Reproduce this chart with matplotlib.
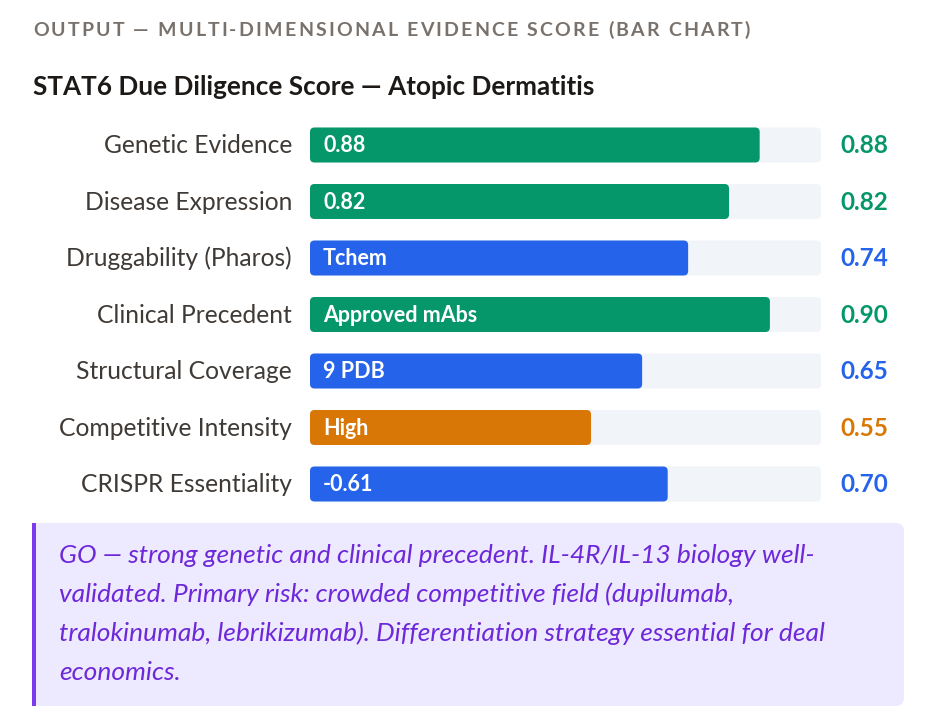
import matplotlib
matplotlib.use("Agg")
import matplotlib.pyplot as plt
from matplotlib.patches import FancyBboxPatch, Rectangle

# ---------------- data ----------------
categories = ["Genetic Evidence", "Disease Expression", "Druggability (Pharos)",
              "Clinical Precedent", "Structural Coverage", "Competitive Intensity",
              "CRISPR Essentiality"]
scores = [0.88, 0.82, 0.74, 0.90, 0.65, 0.55, 0.70]
bar_labels = ["0.88", "0.82", "Tchem", "Approved mAbs", "9 PDB", "High", "-0.61"]
value_labels = ["0.88", "0.82", "0.74", "0.90", "0.65", "0.55", "0.70"]
bar_kinds = ["good", "good", "mid", "good", "mid", "warn", "mid"]

header = "OUTPUT — MULTI-DIMENSIONAL EVIDENCE SCORE (BAR CHART)"
title = "STAT6 Due Diligence Score — Atopic Dermatitis"
note_lines = ["GO — strong genetic and clinical precedent. IL-4R/IL-13 biology well-",
              "validated. Primary risk: crowded competitive field (dupilumab,",
              "tralokinumab, lebrikizumab). Differentiation strategy essential for deal",
              "economics."]

# ---------------- style ----------------
kind_colors = {"good": "#059669", "mid": "#2563eb", "warn": "#d97706"}
track_color = "#f1f5f9"
FONT = ["Lato", "DejaVu Sans"]
plt.rcParams["font.family"] = FONT

W, H = 934, 728
fig = plt.figure(figsize=(W / 100, H / 100), dpi=100)
fig.patch.set_facecolor("white")

def fx(px):
    return px / W

def fy(py):
    return 1 - py / H

# bar axes: x 310..821 px, rows centered 145..484 px
row_h = (484 - 145) / 6
top_px = 145 - row_h / 2
bot_px = 484 + row_h / 2
ax = fig.add_axes([fx(310), fy(bot_px), fx(821) - fx(310), (bot_px - top_px) / H])
n = len(categories)
ax.set_xlim(0, 1)
ax.set_ylim(n - 0.5, -0.5)
ax.axis("off")

bar_h = 35 / row_h
rad_x = 4.5 / 511
aspect = (1 / row_h) / (1 / 511)

for i, (cat, s, bl, vl, k) in enumerate(zip(categories, scores, bar_labels, value_labels, bar_kinds)):
    c = kind_colors[k]
    track = FancyBboxPatch((0, i - bar_h / 2), 1, bar_h,
                           boxstyle=f"round,pad=0,rounding_size={rad_x}",
                           mutation_aspect=aspect, fc=track_color, ec="none", zorder=1)
    ax.add_patch(track)
    bar = FancyBboxPatch((0, i - bar_h / 2), s, bar_h,
                         boxstyle=f"round,pad=0,rounding_size={rad_x}",
                         mutation_aspect=aspect, fc=c, ec="none", zorder=2)
    ax.add_patch(bar)
    ax.text(13 / 511, i + 0.01, bl, color="white", fontsize=15.5, fontweight="bold",
            ha="left", va="center", zorder=3)
    ax.text(1 + 19 / 511, i + 0.01, vl, color=c, fontsize=17.5, fontweight="bold",
            ha="left", va="center", zorder=3)
    ax.text(-18 / 511, i + 0.01, cat, color="#3f3a36", fontsize=17.7,
            ha="right", va="center", zorder=3)

# header with letter spacing
renderer = fig.canvas.get_renderer()
def spaced_text(x0, x1, y, s, **kw):
    # measure chars, distribute extra spacing so text spans x0..x1 px
    widths = []
    for ch in s:
        t = fig.text(0, 0, ch if ch != " " else "n", **kw)
        bb = t.get_window_extent(renderer)
        w = bb.width
        if ch == " ":
            t2 = fig.text(0, 0, "n n", **kw)
            w = t2.get_window_extent(renderer).width - 2 * bb.width
            t2.remove()
        widths.append(w)
        t.remove()
    total = sum(widths)
    gap = (x1 - x0 - total) / (len(s) - 1)
    x = x0
    for ch, w in zip(s, widths):
        if ch != " ":
            fig.text(fx(x), fy(y), ch, ha="left", va="baseline", **kw)
        x += w + gap

spaced_text(33, 750, 36, header, fontsize=14, fontweight="bold", color="#78716c")

fig.text(fx(33), fy(95), title, fontsize=18.8, fontweight="bold", color="#1c1917",
         ha="left", va="baseline")

# note box
box = FancyBboxPatch((fx(32), fy(706)), fx(904) - fx(32), (706 - 523) / H,
                     boxstyle="round,pad=0,rounding_size=0.009", transform=fig.transFigure,
                     fc="#ede9fe", ec="none", mutation_aspect=W / H, zorder=0)
fig.patches.append(box)
fig.patches.append(Rectangle((fx(32), fy(706)), 4 / W, (706 - 523) / H,
                             transform=fig.transFigure, fc="#7c3aed", ec="none", zorder=1))
for j, line in enumerate(note_lines):
    fig.text(fx(59), fy(563 + j * 39), line, fontsize=19, style="italic",
             color="#6d28d9", ha="left", va="baseline")

fig.savefig("out.png", dpi=100, facecolor="white")
